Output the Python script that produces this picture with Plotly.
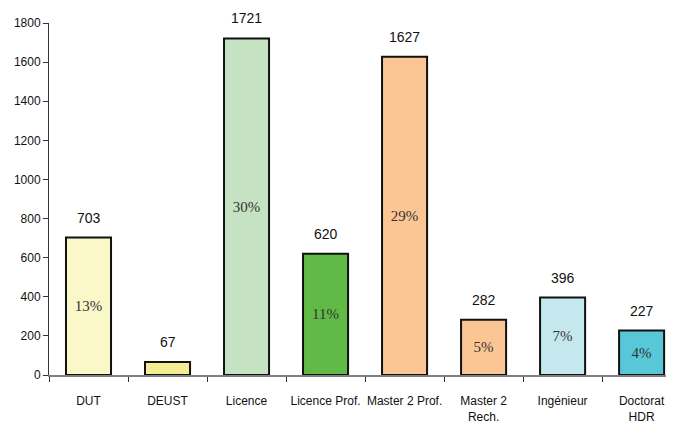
import plotly.graph_objects as go

categories = ["DUT", "DEUST", "Licence", "Licence Prof.", "Master 2 Prof.", "Master 2<br>Rech.", "Ingénieur", "Doctorat<br>HDR"]
values = [703, 67, 1721, 620, 1627, 282, 396, 227]
percent_labels = ["13%", "", "30%", "11%", "29%", "5%", "7%", "4%"]
colors = ["#FAF7C8", "#F3EE92", "#C5E3C3", "#62BA46", "#FCC594", "#FCC594", "#C5E8EF", "#58C7D8"]
y_ticks = [0, 200, 400, 600, 800, 1000, 1200, 1400, 1600, 1800]

FONT = "Liberation Sans Narrow, Arial Narrow, Liberation Sans, Arial, sans-serif"

fig = go.Figure()
fig.add_trace(go.Bar(
    x=categories, y=values,
    marker=dict(color=colors, line=dict(color="#111111", width=2)),
    width=0.57,
    text=percent_labels,
    textposition="inside",
    insidetextanchor="middle",
    textangle=0,
    textfont=dict(family="Liberation Serif, Times New Roman, serif", size=15, color="#333333"),
    cliponaxis=False,
    hoverinfo="skip",
))

for c, v in zip(categories, values):
    fig.add_annotation(x=c, y=v, text=str(v), showarrow=False, yanchor="bottom", yshift=10,
                       font=dict(family=FONT, size=14, color="#111111"))

# the page body has an 8px default margin, so the figure is sized to fit the window
fig.update_layout(
    width=666, height=418,
    margin=dict(l=41, r=0, t=15, b=51),
    paper_bgcolor="white", plot_bgcolor="white",
    showlegend=False,
    font=dict(family=FONT, size=12, color="#111111"),
    bargap=0.43,
)
fig.update_xaxes(
    type="category", range=[-0.5, 7.41],
    tickangle=0, automargin=False,
    showline=True, linecolor="#808080", linewidth=1.5,
    ticks="outside", tickson="boundaries", ticklen=5, tickcolor="#333333", tickwidth=1,
    ticklabelstandoff=14,
    tickfont=dict(family=FONT, size=12),
    showgrid=False, zeroline=False,
)
fig.update_yaxes(
    range=[0, 1800], tickvals=y_ticks, automargin=False,
    showline=True, linecolor="#333333", linewidth=1,
    ticks="outside", ticklen=5, tickcolor="#333333",
    tickfont=dict(family=FONT, size=12),
    showgrid=False, zeroline=False,
)

fig.write_html("out.html")
